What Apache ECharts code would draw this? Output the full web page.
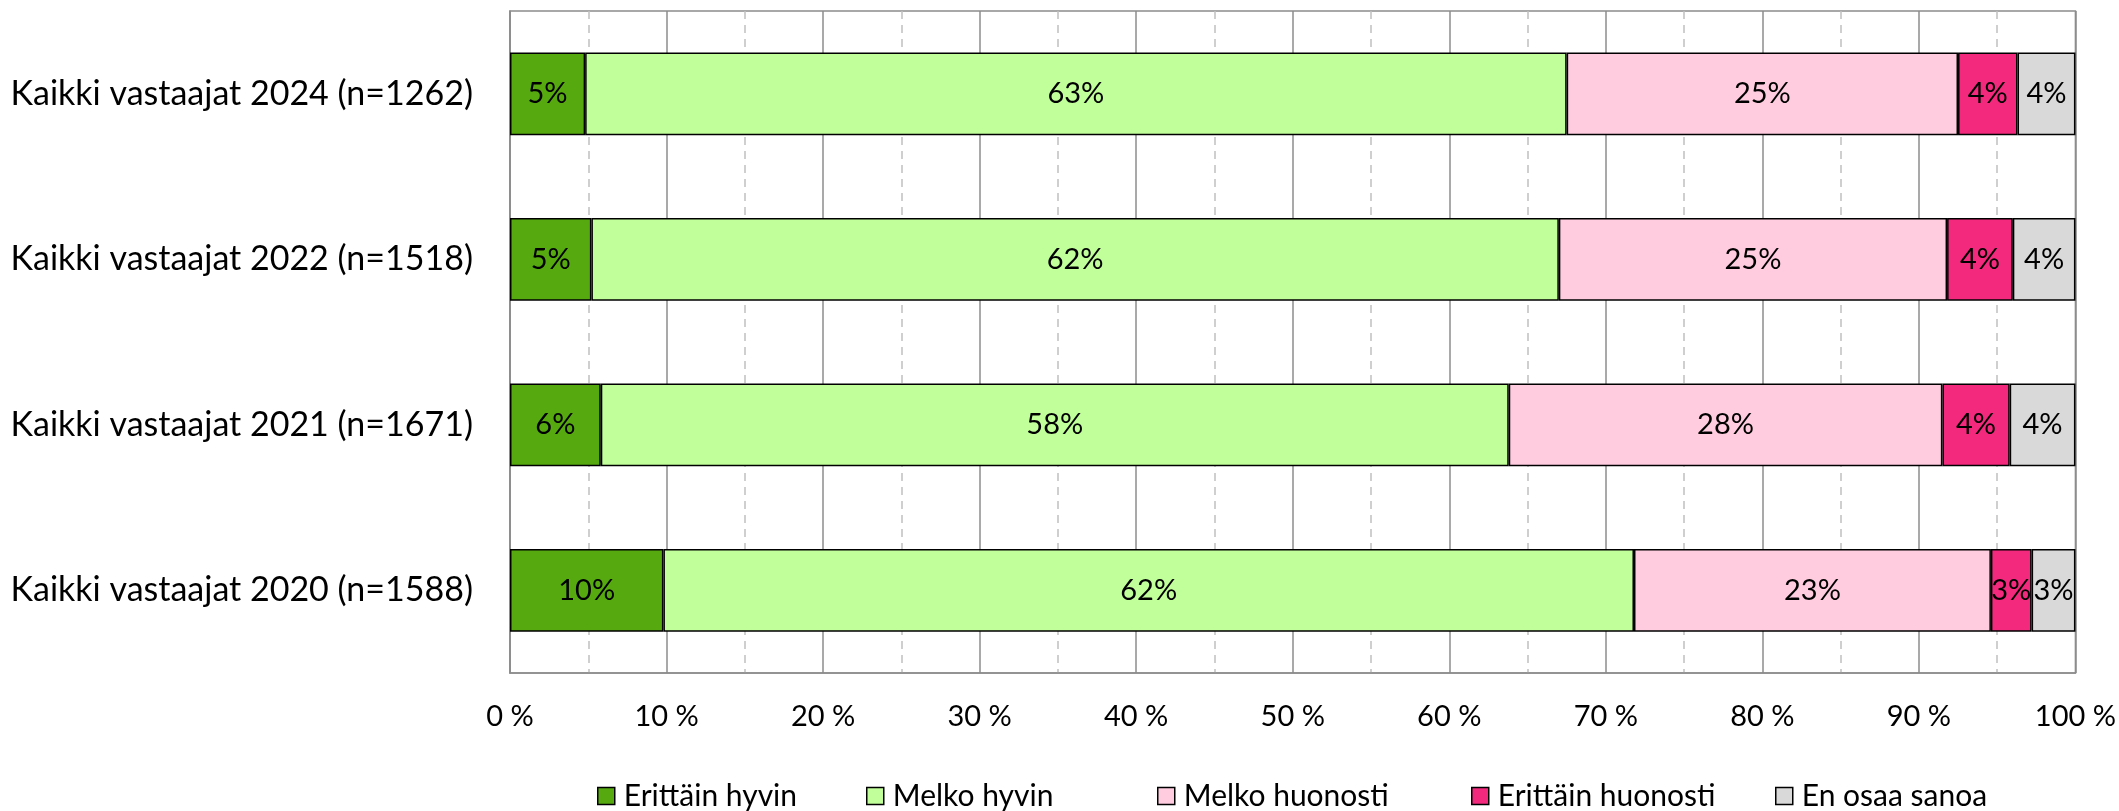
<!DOCTYPE html>
<html>
<head>
<meta charset="utf-8">
<script src="https://cdn.jsdelivr.net/npm/echarts@6/dist/echarts.min.js"></script>
<style>
html,body{margin:0;padding:0;background:#fff;}
#chart{width:2119px;height:811px;}
</style>
</head>
<body>
<div id="chart"></div>
<script>
const categories = [
  'Kaikki vastaajat 2024 (n=1262)',
  'Kaikki vastaajat 2022 (n=1518)',
  'Kaikki vastaajat 2021 (n=1671)',
  'Kaikki vastaajat 2020 (n=1588)'
];
const seriesNames = ['Erittäin hyvin', 'Melko hyvin', 'Melko huonosti', 'Erittäin huonosti', 'En osaa sanoa'];
const erittainHyvin   = [4.8, 5.2, 5.8, 9.8];
const melkoHyvin      = [62.7, 61.8, 58.0, 62.0];
const melkoHuonosti   = [25.0, 24.8, 27.7, 22.8];
const erittainHuonosti= [3.8, 4.2, 4.3, 2.6];
const enOsaaSanoa     = [3.7, 4.0, 4.2, 2.8];
const tickLabels = ['0 %','10 %','20 %','30 %','40 %','50 %','60 %','70 %','80 %','90 %','100 %'];

const colors = ['#56AA10', '#C0FF9A', '#FFCCDF', '#F2297C', '#D9D9D9'];
const allValues = [erittainHyvin, melkoHyvin, melkoHuonosti, erittainHuonosti, enOsaaSanoa];
const legendLefts = [592, 861, 1152, 1466, 1770];
const FONT = 'Lato';

const chart = echarts.init(document.getElementById('chart'), null, {renderer: 'canvas'});
const option = {
  animation: false,
  backgroundColor: '#fff',
  textStyle: {fontFamily: FONT},
  grid: {left: 510, right: 43, top: 11, bottom: 138, show: true, borderColor: '#8c8c8c', borderWidth: 1.5, containLabel: false},
  legend: seriesNames.map(function (name, i) {
    return {
      data: [name],
      left: legendLefts[i], top: 776,
      itemWidth: 17, itemHeight: 17,
      icon: 'rect',
      textStyle: {fontFamily: FONT, fontSize: 30, color: '#000', padding: [0, 0, 0, 4]},
      itemStyle: {borderColor: '#000', borderWidth: 1.5}
    };
  }),
  xAxis: {
    type: 'value', min: 0, max: 100, interval: 10,
    axisLine: {show: true, lineStyle: {color: '#8c8c8c', width: 1.5}},
    axisTick: {show: false},
    axisLabel: {fontFamily: FONT, fontSize: 29, color: '#000', margin: 29,
      formatter: function (v) { return tickLabels[Math.round(v / 10)]; }},
    splitLine: {show: true, lineStyle: {color: '#8c8c8c', width: 1.5}},
    minorTick: {show: false, splitNumber: 2},
    minorSplitLine: {show: true, lineStyle: {color: '#c0c0c0', width: 1.5, type: [8, 6]}}
  },
  yAxis: {
    type: 'category', data: categories, inverse: true,
    axisLine: {show: true, lineStyle: {color: '#8c8c8c', width: 1.5}},
    axisTick: {show: false},
    axisLabel: {fontFamily: FONT, fontSize: 34, color: '#000', margin: 37}
  },
  series: seriesNames.map(function (name, i) {
    return {
      name: name, type: 'bar', stack: 'total', barWidth: '50%',
      data: allValues[i],
      itemStyle: {color: colors[i], borderColor: '#000', borderWidth: 1.5},
      label: {show: true, position: 'inside', color: '#000', fontFamily: FONT, fontSize: 29,
        formatter: function (p) { return Math.round(p.value) + '%'; }}
    };
  })
};
chart.setOption(option);
</script>
</body>
</html>
